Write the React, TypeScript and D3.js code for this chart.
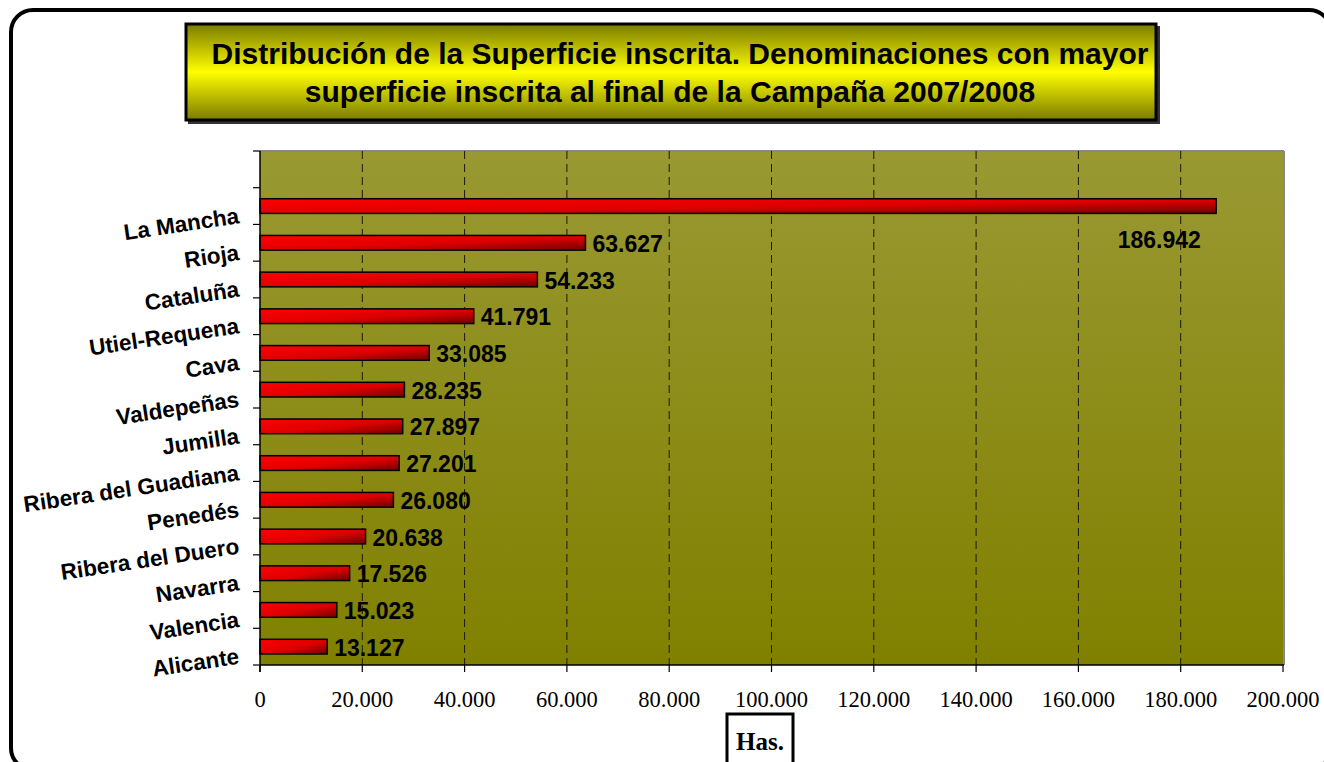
import React from "react";
import * as d3 from "d3";

const categories = [
  "",
  "La Mancha",
  "Rioja",
  "Cataluña",
  "Utiel-Requena",
  "Cava",
  "Valdepeñas",
  "Jumilla",
  "Ribera del Guadiana",
  "Penedés",
  "Ribera del Duero",
  "Navarra",
  "Valencia",
  "Alicante",
];
const values = [
  null, 186942, 63627, 54233, 41791, 33085, 28235, 27897, 27201, 26080, 20638, 17526, 15023, 13127,
];
const xTicks = [0, 20000, 40000, 60000, 80000, 100000, 120000, 140000, 160000, 180000, 200000];
const titleLines = [
  "Distribución de la Superficie inscrita. Denominaciones con mayor",
  "superficie inscrita al final de la Campaña 2007/2008",
];
const axisTitle = "Has.";

const W = 1324;
const H = 762;
const plot = { left: 260, right: 1283, top: 151, bottom: 665 };

const fmt = (v: number) => d3.format(",")(v).replace(/,/g, ".");

export default function App() {
  const x = d3.scaleLinear().domain([0, 200000]).range([plot.left, plot.right]);
  const y = d3
    .scaleBand<string>()
    .domain(categories.map((c, i) => String(i)))
    .range([plot.top, plot.bottom])
    .paddingInner(0.6)
    .paddingOuter(0.3);
  const bw = y.bandwidth();
  const slotH = (plot.bottom - plot.top) / categories.length;
  const boundaries = d3.range(categories.length + 1).map((i) => plot.top + i * slotH);
  const slotCenter = (i: number) => plot.top + (i + 0.5) * slotH;
  const sans = "'Liberation Sans', Arial, sans-serif";
  const serif = "'Liberation Serif', 'Times New Roman', serif";
  const maxVal = d3.max(values.filter((v) => v != null) as number[]) as number;

  return (
    <svg width={W} height={H} style={{ position: "absolute", left: 0, top: 0, background: "#fff" }}>
      <defs>
        <linearGradient id="plotBg" x1="0" y1="0" x2="0" y2="1">
          <stop offset="0" stopColor="#999933" />
          <stop offset="1" stopColor="#808000" />
        </linearGradient>
        <linearGradient id="titleBg" x1="0" y1="0" x2="0" y2="1">
          <stop offset="0" stopColor="#7a7a00" />
          <stop offset="0.5" stopColor="#ffff00" />
          <stop offset="1" stopColor="#7a7a00" />
        </linearGradient>
        <linearGradient id="barGrad" x1="0" y1="0" x2="1" y2="1">
          <stop offset="0" stopColor="#ff0000" />
          <stop offset="0.55" stopColor="#dd0000" />
          <stop offset="1" stopColor="#700000" />
        </linearGradient>
      </defs>

      {/* outer frame */}
      <rect x={11} y={10} width={1320} height={760} rx={22} ry={22} fill="#fff" stroke="#000" strokeWidth={4} />

      {/* title box */}
      <rect x={188} y={26} width={972} height={98} fill="#333" />
      <rect x={186} y={24} width={970} height={96} fill="url(#titleBg)" stroke="#000" strokeWidth={3} />
      {titleLines.map((t, i) => (
        <text
          key={i}
          x={i === 0 ? 680 : 670}
          y={i === 0 ? 64 : 102}
          textAnchor="middle"
          fontFamily={sans}
          fontWeight="bold"
          fontSize={30}
          fill="#000"
        >
          {t}
        </text>
      ))}

      {/* plot area */}
      <rect x={plot.left} y={plot.top} width={plot.right - plot.left} height={plot.bottom - plot.top} fill="url(#plotBg)" />
      <line x1={plot.left} x2={plot.right + 1} y1={plot.top} y2={plot.top} stroke="#888" strokeWidth={2} />
      <line x1={plot.right + 1} x2={plot.right + 1} y1={plot.top} y2={plot.bottom} stroke="#888" strokeWidth={2} />

      {/* gridlines */}
      {xTicks.slice(1, -1).map((t) => (
        <line key={t} x1={x(t)} x2={x(t)} y1={plot.top} y2={plot.bottom} stroke="#1a1a00" strokeWidth={1} strokeDasharray="8,5" />
      ))}

      {/* bars */}
      {values.map((v, i) =>
        v == null ? null : (
          <rect
            key={i}
            x={x(0)}
            y={slotCenter(i) - bw / 2}
            width={x(v) - x(0)}
            height={bw}
            fill="url(#barGrad)"
            stroke="#000"
            strokeWidth={1.5}
          />
        )
      )}

      {/* value labels */}
      {values.map((v, i) =>
        v == null ? null : v === maxVal ? (
          <text
            key={i}
            x={x(v) - 57}
            y={slotCenter(i) + 34}
            textAnchor="middle"
            dominantBaseline="central"
            fontFamily={sans}
            fontWeight="bold"
            fontSize={23}
            fill="#000"
          >
            {fmt(v)}
          </text>
        ) : (
          <text
            key={i}
            x={x(v) + 7}
            y={slotCenter(i) + 1}
            dominantBaseline="central"
            fontFamily={sans}
            fontWeight="bold"
            fontSize={23}
            fill="#000"
          >
            {fmt(v)}
          </text>
        )
      )}

      {/* axes */}
      <line x1={plot.left} x2={plot.left} y1={plot.top} y2={plot.bottom + 7} stroke="#000" strokeWidth={1.5} />
      <line x1={plot.left} x2={plot.right + 1} y1={plot.bottom} y2={plot.bottom} stroke="#000" strokeWidth={1.5} />
      {boundaries.map((b, i) => (
        <line key={i} x1={plot.left - 7} x2={plot.left} y1={b} y2={b} stroke="#000" strokeWidth={1.2} />
      ))}
      {xTicks.map((t) => (
        <line key={t} x1={x(t)} x2={x(t)} y1={plot.bottom} y2={plot.bottom + 7} stroke="#000" strokeWidth={1.2} />
      ))}
      {xTicks.map((t) => (
        <text key={t} x={x(t)} y={707} textAnchor="middle" fontFamily={serif} fontSize={22.5} fill="#000">
          {fmt(t)}
        </text>
      ))}

      {/* category labels */}
      {categories.map((c, i) =>
        c === "" ? null : (
          <text
            key={i}
            x={240}
            y={slotCenter(i) + 17}
            textAnchor="end"
            transform={`rotate(-8.5, 240, ${slotCenter(i) + 17})`}
            fontFamily={sans}
            fontWeight="bold"
            fontSize={22.5}
            fill="#000"
          >
            {c}
          </text>
        )
      )}

      {/* axis title box */}
      <rect x={727} y={714} width={66} height={60} fill="#fff" stroke="#000" strokeWidth={3} />
      <text x={760} y={750} textAnchor="middle" fontFamily={serif} fontWeight="bold" fontSize={25} fill="#000">
        {axisTitle}
      </text>
    </svg>
  );
}
